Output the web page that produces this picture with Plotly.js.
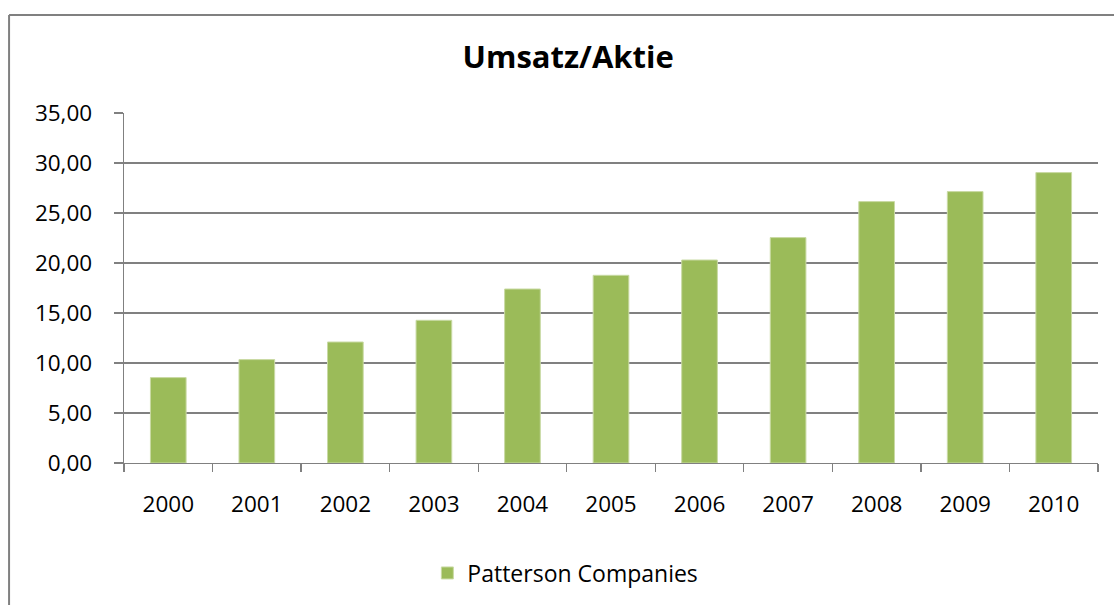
<!DOCTYPE html>
<html>
<head>
<meta charset="utf-8">
<script src="https://cdn.plot.ly/plotly-3.0.1.min.js"></script>
<style>html,body{margin:0;padding:0;background:#fff;}#chart{width:1114px;height:605px;}</style>
</head>
<body>
<div id="chart"></div>
<script>
const years = ["2000","2001","2002","2003","2004","2005","2006","2007","2008","2009","2010"];
const umsatzAktie = [8.54, 10.34, 12.10, 14.27, 17.40, 18.77, 20.30, 22.54, 26.14, 27.14, 29.04];
const yTicks = [0, 5, 10, 15, 20, 25, 30, 35];
const yTickLabels = ["0,00","5,00","10,00","15,00","20,00","25,00","30,00","35,00"];
const seriesName = "Patterson Companies";
const chartTitle = "Umsatz/Aktie";

const FONT = "Open Sans, Noto Sans, DejaVu Sans, sans-serif";
const GRAY = "#808080";

const trace = {
  type: "bar",
  x: years,
  y: umsatzAktie,
  name: seriesName,
  marker: {color: "#9BBB59", line: {color: "#C9DAA4", width: 1}},
  showlegend: true,
  hoverinfo: "x+y"
};

const layout = {
  width: 1114,
  height: 605,
  margin: {l: 124, r: 16, t: 113, b: 142, pad: 0},
  paper_bgcolor: "#ffffff",
  plot_bgcolor: "#ffffff",
  font: {family: FONT, size: 22, color: "#000000"},
  title: {
    text: "<b>" + chartTitle + "</b>",
    font: {family: FONT, size: 31, color: "#000000"},
    xref: "container", x: 0.51, xanchor: "center",
    yref: "container", y: 1 - 57/605, yanchor: "middle"
  },
  bargap: 0.597,
  xaxis: {
    type: "category",
    showline: true, linecolor: GRAY, linewidth: 1.3,
    ticks: "outside", tickson: "boundaries", ticklen: 8, tickcolor: GRAY, tickwidth: 1.3,
    ticklabelstandoff: 21,
    showgrid: false, zeroline: false,
    tickfont: {family: FONT, size: 22.5, color: "#000"}
  },
  yaxis: {
    range: [0, 35],
    tickmode: "array", tickvals: yTicks, ticktext: yTickLabels,
    showline: true, linecolor: GRAY, linewidth: 1.3,
    ticks: "outside", ticklen: 9, tickcolor: GRAY, tickwidth: 1.3,
    ticklabelstandoff: 17,
    showgrid: true, gridcolor: GRAY, gridwidth: 1.3,
    zeroline: false,
    tickfont: {family: FONT, size: 22.5, color: "#000"}
  },
  showlegend: true,
  legend: {
    orientation: "h",
    xref: "container", x: 0.5075, xanchor: "center",
    yref: "container", y: (605 - 573) / 605, yanchor: "middle",
    font: {family: FONT, size: 23, color: "#000"},
    bgcolor: "rgba(0,0,0,0)"
  },
  shapes: [
    {type: "line", xref: "paper", yref: "paper", x0: -0.118, x1: 1.2, y0: 1.28, y1: 1.28, line: {color: GRAY, width: 2}},
    {type: "line", xref: "paper", yref: "paper", x0: -0.118, x1: -0.118, y0: 1.28, y1: -0.5, line: {color: GRAY, width: 2}}
  ]
};

Plotly.newPlot("chart", [trace], layout, {displayModeBar: false, staticPlot: true});
</script>
</body>
</html>
